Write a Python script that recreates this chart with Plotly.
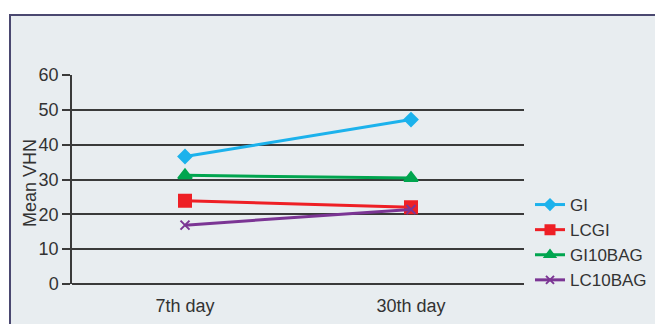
import plotly.graph_objects as go

categories = ["7th day", "30th day"]
series_names = ["GI", "LCGI", "GI10BAG", "LC10BAG"]
gi = [36.6, 47.2]
lcgi = [23.9, 22.0]
gi10bag = [31.2, 30.4]
lc10bag = [16.9, 21.4]
y_ticks = [0, 10, 20, 30, 40, 50, 60]

colors = ["#1cb2ec", "#ee1f25", "#00a54f", "#7b3594"]
symbols = ["diamond", "square", "triangle-up", "x-thin"]
sizes = [10, 12, 12, 9]
leg_sizes = [8, 9, 9, 8]

FONT = "Liberation Sans, Arial, sans-serif"
TXT = "#333333"

fig = go.Figure()
for name, vals, c, s, sz, lsz in zip(series_names, [gi, lcgi, gi10bag, lc10bag], colors, symbols, sizes, leg_sizes):
    fig.add_trace(go.Scatter(
        x=categories, y=vals, name=name, mode="lines+markers", legendgroup=name,
        showlegend=False,
        line=dict(color=c, width=3),
        marker=dict(symbol=s, size=sz, color=c, line=dict(color=c, width=2)),
    ))
    fig.add_trace(go.Scatter(
        x=[None], y=[None], name=name, mode="lines+markers", legendgroup=name,
        showlegend=True,
        line=dict(color=c, width=3),
        marker=dict(symbol=s, size=lsz, color=c, line=dict(color=c, width=2)),
    ))

W, H = 655, 324
L, R, T, B = 72, 131, 75, 40
pw = W - L - R
ph = H - T - B

def px_x(px):
    return (px - L) / pw

def px_y(py):
    return (H - B - py) / ph

fig.add_shape(type="rect", xref="paper", yref="paper",
              x0=px_x(10), y0=px_y(15), x1=px_x(700), y1=px_y(400),
              fillcolor="#e8edf0", line=dict(color="#4a4870", width=2), layer="below")

fig.add_annotation(text="Mean VHN", xref="paper", yref="paper",
                   x=px_x(30), y=px_y(183), textangle=-90, showarrow=False,
                   xanchor="center", yanchor="middle",
                   font=dict(family=FONT, size=18, color=TXT))

fig.update_layout(
    width=W, height=H,
    margin=dict(l=L, r=R, t=T, b=B, autoexpand=False),
    paper_bgcolor="white",
    plot_bgcolor="rgba(0,0,0,0)",
    font=dict(family=FONT, size=18, color=TXT),
    showlegend=True,
    legend=dict(xref="container", yref="container", x=530 / W, y=1 - 187 / H,
                xanchor="left", yanchor="top",
                bgcolor="rgba(0,0,0,0)", font=dict(family=FONT, size=17, color=TXT),
                itemwidth=30, tracegroupgap=0),
    xaxis=dict(type="category", range=[-0.5, 1.5], showgrid=False, showline=False,
               ticks="", tickfont=dict(family=FONT, size=18, color=TXT), zeroline=False,
               ticklabelstandoff=9, automargin=False),
    yaxis=dict(range=[0, 60], tickvals=y_ticks, showgrid=True, gridcolor="#3a3a3a",
               gridwidth=1.5, showline=True, linecolor="#3a3a3a", linewidth=1.5,
               ticks="outside", ticklen=8, tickcolor="#3a3a3a", tickwidth=1.5,
               zeroline=True, zerolinecolor="#3a3a3a", zerolinewidth=1.5,
               tickfont=dict(family=FONT, size=18, color=TXT), automargin=False),
)

fig.write_html("out.html")
